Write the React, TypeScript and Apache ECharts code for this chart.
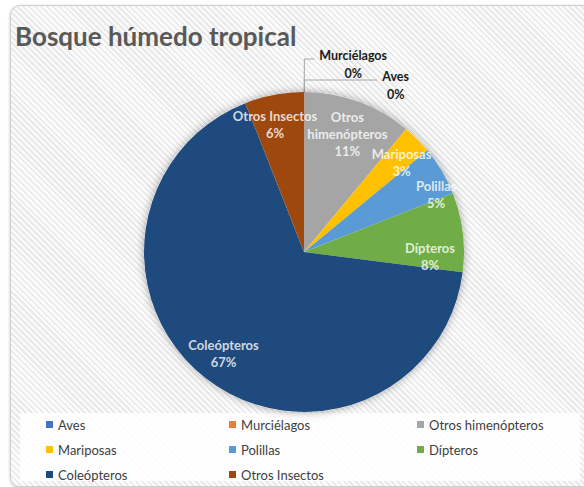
import React, { useEffect, useRef } from "react";
import * as echarts from "echarts";

const titleText = "Bosque húmedo tropical";
const categories = [
  "Aves",
  "Murciélagos",
  "Otros himenópteros",
  "Mariposas",
  "Polillas",
  "Dípteros",
  "Coleópteros",
  "Otros Insectos",
];
const labelNames = [
  "Aves",
  "Murciélagos",
  "Otros\nhimenópteros",
  "Mariposas",
  "Polillas",
  "Dípteros",
  "Coleópteros",
  "Otros Insectos",
];
const values = [0, 0, 11, 3, 5, 8, 67, 6];
const colors = [
  "#4472C4",
  "#ED7D31",
  "#A5A5A5",
  "#FFC000",
  "#5B9BD5",
  "#70AD47",
  "#1F4A7E",
  "#9E480E",
];
const legendCol1 = ["Aves", "Mariposas", "Coleópteros"];
const legendCol2 = ["Murciélagos", "Polillas", "Otros Insectos"];
const legendCol3 = ["Otros himenópteros", "Dípteros"];

// label nudges (px) for inside labels, as Excel placed them
const labelOffsets: [number, number][] = [
  [0, 0],
  [0, 0],
  [0, 2],
  [7, 1],
  [22, 8],
  [-1, 21],
  [-2, 0],
  [-5, -2],
];

const FONT = "Lato, 'Noto Sans', sans-serif";
const CENTER = [304, 252];
const R = 160;
const LABEL_R = 0.8;

export default function App() {
  const ref = useRef<HTMLDivElement>(null);

  useEffect(() => {
    if (!ref.current) return;
    const chart = echarts.init(ref.current, null, { renderer: "svg" });

    const total = values.reduce((a, b) => a + b, 0);

    const outsideLine: Record<string, [number, number]> = {
      Aves: [12, 73],
      Murciélagos: [33, 10],
    };

    const mainData = categories.map((name, i) => {
      const item: any = {
        name,
        value: values[i],
        itemStyle: { color: colors[i] },
      };
      if (outsideLine[name]) {
        item.label = {
          show: true,
          position: "outside",
          formatter: "{n|{b}}\n{p|{d}%}",
          padding: [10, 0, 0, 0],
          rich: {
            n: { fontFamily: FONT, fontSize: 12.5, fontWeight: "bold", color: "#1a1a1a", lineHeight: 18 },
            p: { fontFamily: FONT, fontSize: 12.5, fontWeight: "bold", color: "#1a1a1a", lineHeight: 18, align: "center" },
          },
        };
        item.labelLine = {
          show: true,
          length: outsideLine[name][0],
          length2: outsideLine[name][1],
          smooth: false,
          lineStyle: { color: "#a6a6a6", width: 1 },
        };
      }
      return item;
    });

    // inside labels placed on a polar system matching the pie
    let cum = 0;
    const labelData: any[] = [];
    values.forEach((v, i) => {
      const mid = cum + v / 2;
      cum += v;
      if (v > 0) {
        labelData.push({
          name: categories[i],
          value: [LABEL_R, mid],
          label: {
            formatter: `${labelNames[i]}\n${Math.round((v / total) * 100)}%`,
            offset: labelOffsets[i],
          },
        });
      }
    });

    const legendBase = {
      orient: "vertical",
      icon: "rect",
      itemWidth: 7,
      itemHeight: 7,
      itemGap: 12,
      padding: 0,
      top: 418,
      selectedMode: false,
      textStyle: { fontFamily: FONT, fontSize: 13, color: "#404040" },
    };

    chart.setOption({
      animation: false,
      backgroundColor: "transparent",
      title: {
        text: titleText,
        left: 15,
        top: 23,
        padding: 0,
        textStyle: { fontFamily: FONT, fontSize: 26, fontWeight: "bold", color: "#595959" },
      },
      legend: [
        { ...legendBase, left: 46, data: legendCol1 },
        { ...legendBase, left: 229, data: legendCol2 },
        { ...legendBase, left: 417, data: legendCol3 },
      ],
      polar: { center: CENTER, radius: R },
      angleAxis: {
        type: "value",
        min: 0,
        max: total,
        startAngle: 90,
        clockwise: true,
        show: false,
      },
      radiusAxis: { type: "value", min: 0, max: 1, show: false },
      series: [
        {
          type: "pie",
          name: "shadow",
          center: CENTER,
          radius: R,
          silent: true,
          label: { show: false },
          labelLine: { show: false },
          itemStyle: { color: "#ffffff", shadowBlur: 8, shadowColor: "rgba(0,0,0,0.35)" },
          data: [{ name: "_bg", value: 1 }],
        },
        {
          type: "pie",
          name: "main",
          center: CENTER,
          radius: R,
          startAngle: 89.9,
          clockwise: true,
          avoidLabelOverlap: false,
          percentPrecision: 0,
          silent: true,
          labelLayout: { hideOverlap: false },
          label: { show: false },
          labelLine: { show: false },
          data: mainData,
        },
        {
          type: "scatter",
          name: "labels",
          coordinateSystem: "polar",
          symbolSize: 0,
          silent: true,
          z: 5,
          label: {
            show: true,
            position: "inside",
            fontFamily: FONT,
            fontSize: 13,
            fontWeight: "bold",
            color: "#ffffff",
            lineHeight: 17,
            align: "center",
          },
          data: labelData,
        },
      ],
    });

    return () => chart.dispose();
  }, []);

  const stripes =
    "repeating-linear-gradient(45deg, #fbfbfb 0px, #fbfbfb 2.4px, #e9e9e9 2.4px, #e9e9e9 4.2px)";

  return (
    <div style={{ position: "fixed", left: 0, top: 0, width: 584, height: 487, overflow: "hidden", background: "#ffffff" }}>
      <div
        style={{
          position: "absolute",
          left: 10,
          top: 5,
          width: 620,
          height: 480,
          border: "1px solid #cfcfcf",
          borderRadius: 10,
          background: stripes,
          boxShadow: "0 1px 3px rgba(0,0,0,0.25)",
        }}
      />
      <div
        style={{
          position: "absolute",
          left: 20,
          top: 413,
          width: 560,
          height: 68,
          background: "rgba(255,255,255,0.85)",
        }}
      />
      <div ref={ref} style={{ position: "absolute", left: 0, top: 0, width: 584, height: 487 }} />
    </div>
  );
}
